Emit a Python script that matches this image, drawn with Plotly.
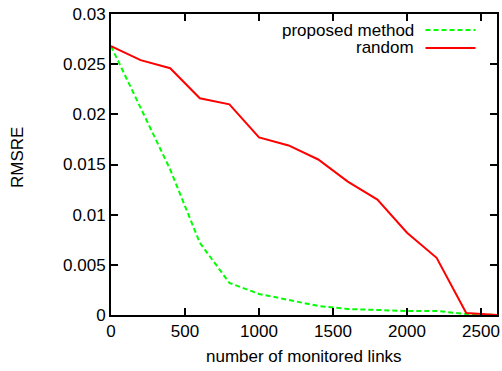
import plotly.graph_objects as go

links = [0, 200, 400, 600, 800, 1000, 1200, 1400, 1600, 1800, 2000, 2200, 2400, 2608]
proposed = [0.0268, 0.0206, 0.0145, 0.0072, 0.0032, 0.0021, 0.0015, 0.0009, 0.0006, 0.0005, 0.0004, 0.0004, 0.0001, 0.0]
random_sel = [0.0268, 0.0254, 0.0246, 0.0216, 0.0210, 0.0177, 0.0169, 0.0155, 0.0133, 0.0115, 0.0082, 0.0057, 0.0002, 0.0]

xticks = [0, 500, 1000, 1500, 2000, 2500]
yticks = [0, 0.005, 0.01, 0.015, 0.02, 0.025, 0.03]
ytick_text = ["0", "0.005", "0.01", "0.015", "0.02", "0.025", "0.03"]

series_names = ["proposed method", "random"]
colors = ["#00ff00", "#ff0000"]

fig = go.Figure()
fig.add_trace(go.Scatter(x=links, y=proposed, mode="lines", name=series_names[0],
                         line=dict(color=colors[0], width=2, dash="5px,3px")))
fig.add_trace(go.Scatter(x=links, y=random_sel, mode="lines", name=series_names[1],
                         line=dict(color=colors[1], width=2)))

font = dict(family="Liberation Sans, Arial, sans-serif", size=17, color="black")

L, R, T, B = 111, 5, 14, 56
W, H = 502, 371
fig.update_layout(
    width=W, height=H,
    margin=dict(l=L, r=R, t=T, b=B, autoexpand=False),
    paper_bgcolor="white", plot_bgcolor="white",
    showlegend=False,
    font=font,
)
fig.update_xaxes(range=[0, 2608], tickvals=xticks, ticktext=[str(v) for v in xticks],
                 ticks="inside", ticklen=7, tickwidth=1.5, tickcolor="black",
                 showline=True, linecolor="black", linewidth=2, mirror="ticks",
                 showgrid=False, zeroline=False, automargin=False, tickfont=font)
fig.update_yaxes(range=[0, 0.03], tickvals=yticks, ticktext=ytick_text,
                 ticks="inside", ticklen=7, tickwidth=1.5, tickcolor="black",
                 showline=True, linecolor="black", linewidth=2, mirror="ticks",
                 showgrid=False, zeroline=False, automargin=False, tickfont=font)

pw, ph = W - L - R, H - T - B
def px_x(p):
    return (p - L) / pw
def px_y(p):
    return (H - B - p) / ph

# axis titles
fig.add_annotation(xref="paper", yref="paper", x=px_x(303.5), y=px_y(356), text="number of monitored links",
                   showarrow=False, xanchor="center", yanchor="middle", font=font)
fig.add_annotation(xref="paper", yref="paper", x=px_x(17), y=px_y(158), text="RMSRE", textangle=-90,
                   showarrow=False, xanchor="center", yanchor="middle", font=font)

# gnuplot-style legend: text right-aligned, sample line to the right
leg_y = [30, 48]
for name, col, yy, dash in zip(series_names, colors, leg_y, ["5px,3px", "solid"]):
    fig.add_annotation(xref="paper", yref="paper", x=px_x(415), y=px_y(yy), text=name,
                       showarrow=False, xanchor="right", yanchor="middle", font=font,
                       height=17, borderpad=0)
    fig.add_shape(type="line", xref="paper", yref="paper", x0=px_x(425.5), x1=px_x(475.5),
                  y0=px_y(yy), y1=px_y(yy), line=dict(color=col, width=2, dash=dash))

fig.write_html("out.html", config={"displayModeBar": False},
               post_script="document.body.style.margin='0';document.body.style.overflow='hidden';")
